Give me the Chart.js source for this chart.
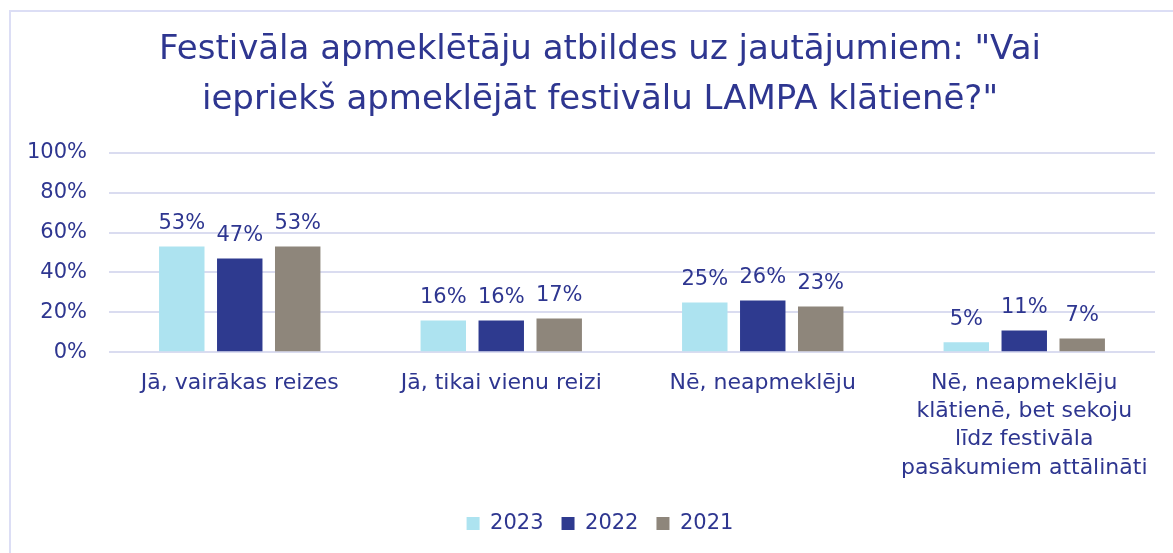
<!DOCTYPE html>
<html>
<head>
<meta charset="utf-8">
<script src="https://cdn.jsdelivr.net/npm/chart.js@4/dist/chart.umd.min.js"></script>
<style>
html,body{margin:0;padding:0;background:#fff;overflow:hidden;}
#frame{position:absolute;left:9px;top:10px;width:1180px;height:560px;border:2px solid #DCDEF5;box-sizing:border-box;}
#wrap{position:absolute;left:0;top:0;width:1180px;height:553px;}
</style>
</head>
<body>
<div id="frame"></div>
<div id="wrap"><canvas id="c" width="1180" height="553"></canvas></div>
<script>
const categories = [
  "Jā, vairākas reizes",
  "Jā, tikai vienu reizi",
  "Nē, neapmeklēju",
  ["Nē, neapmeklēju", "klātienē, bet sekoju", "līdz festivāla", "pasākumiem attālināti"]
];
const seriesNames = ["2023", "2022", "2021"];
const values2023 = [53, 16, 25, 5];
const values2022 = [47, 16, 26, 11];
const values2021 = [53, 17, 23, 7];
const colors = ["#ADE3F0", "#2E3A8F", "#8E867B"];
const yTicks = [0, 20, 40, 60, 80, 100];
const textColor = "#2E3690";
const fontFamily = "'DejaVu Sans', sans-serif";

const valueLabels = {
  id: 'valueLabels',
  afterDatasetsDraw(chart) {
    const ctx = chart.ctx;
    ctx.save();
    ctx.fillStyle = textColor;
    ctx.font = "21px " + fontFamily;
    ctx.textAlign = 'center';
    ctx.textBaseline = 'alphabetic';
    chart.data.datasets.forEach((ds, i) => {
      const meta = chart.getDatasetMeta(i);
      meta.data.forEach((bar, j) => {
        ctx.fillText(ds.data[j] + '%', bar.x, bar.y - 17);
      });
    });
    ctx.restore();
  }
};

new Chart(document.getElementById('c'), {
  type: 'bar',
  data: {
    labels: categories,
    datasets: [
      { label: seriesNames[0], data: values2023, backgroundColor: colors[0] },
      { label: seriesNames[1], data: values2022, backgroundColor: colors[1] },
      { label: seriesNames[2], data: values2021, backgroundColor: colors[2] }
    ]
  },
  options: {
    responsive: false,
    animation: false,
    layout: { padding: { left: 25, right: 5, top: 26, bottom: 9 } },
    datasets: { bar: { categoryPercentage: 0.665, barPercentage: 0.784 } },
    plugins: {
      title: {
        display: true,
        text: ['Festivāla apmeklētāju atbildes uz jautājumiem: "Vai', 'iepriekš apmeklējāt festivālu LAMPA klātienē?"'],
        color: textColor,
        font: { family: fontFamily, size: 34, weight: 'normal', lineHeight: 1.45 },
        padding: { top: 0, bottom: 28 }
      },
      legend: {
        position: 'bottom',
        labels: {
          color: textColor,
          font: { family: fontFamily, size: 21 },
          boxWidth: 13, boxHeight: 13, padding: 18
        }
      },
      tooltip: { enabled: false }
    },
    scales: {
      x: {
        grid: { display: false },
        border: { display: false },
        ticks: { color: textColor, font: { family: fontFamily, size: 22, lineHeight: 1.28 }, maxRotation: 0, autoSkip: false, padding: 9 },
        afterFit(axis) { axis.height += 4; }
      },
      y: {
        min: 0, max: 100,
        afterBuildTicks(axis) { axis.ticks = yTicks.map(v => ({ value: v })); },
        afterFit(axis) { axis.width = 84; },
        grid: { color: '#DADCF0', lineWidth: 2, drawTicks: false },
        border: { display: false },
        ticks: { color: textColor, font: { family: fontFamily, size: 21 }, padding: 22, callback: v => v + '%' }
      },
      yRight: {
        position: 'right',
        display: true,
        grid: { display: false },
        border: { display: false },
        ticks: { display: false },
        afterFit(axis) { axis.width = 20; }
      }
    }
  },
  plugins: [valueLabels]
});
</script>
</body>
</html>
